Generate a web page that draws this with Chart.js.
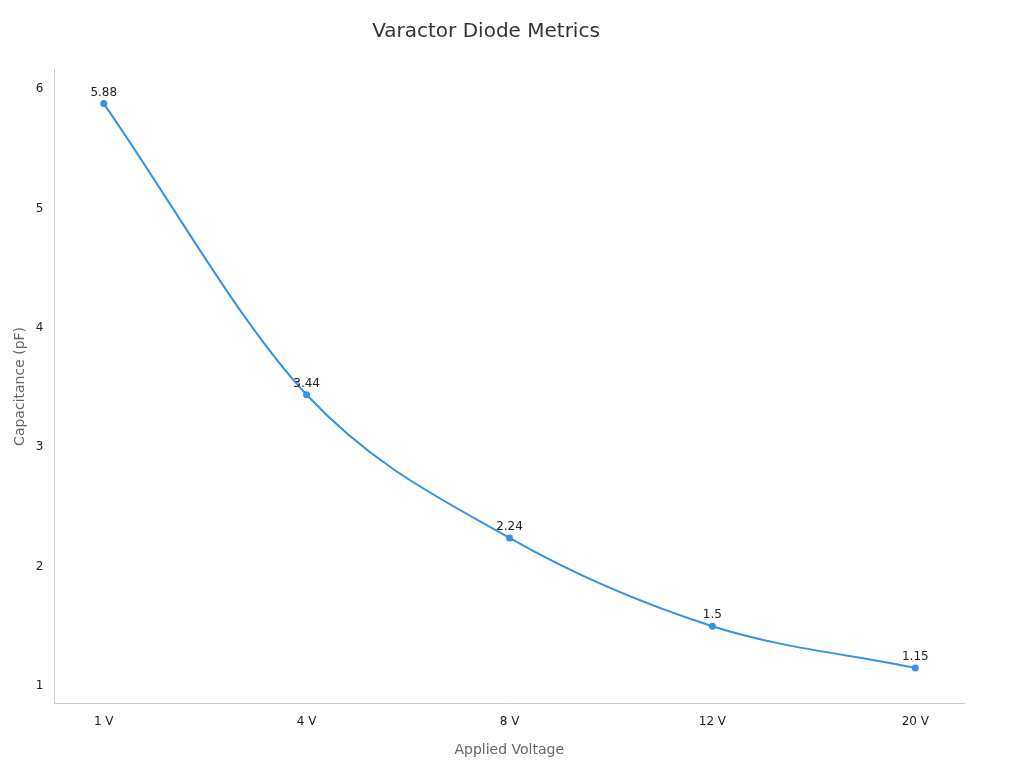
<!DOCTYPE html>
<html><head><meta charset="utf-8">
<script src="https://cdn.jsdelivr.net/npm/chart.js@4/dist/chart.umd.min.js"></script>
<style>html,body{margin:0;padding:0;background:#fff}#w{width:1024px;height:768px}</style>
</head><body><div id="w"><canvas id="c"></canvas></div>
<script>
const categories = ["1 V","4 V","8 V","12 V","20 V"];
const capacitance = [5.88,3.44,2.24,1.5,1.15];
const yTicks = [1,2,3,4,5,6];
Chart.defaults.font.family = "DejaVu Sans";
const labelPlugin = {id:'lbl', afterDatasetsDraw(ch){
  const ctx=ch.ctx, meta=ch.getDatasetMeta(0);
  ctx.save(); ctx.font='12px DejaVu Sans'; ctx.fillStyle='#222'; ctx.textAlign='center'; ctx.textBaseline='bottom';
  meta.data.forEach((p,i)=>ctx.fillText(String(capacitance[i]),p.x,p.y-5));
  ctx.restore();
}};
new Chart(document.getElementById('c'),{
  type:'line',
  data:{datasets:[{data:capacitance.map((v,i)=>({x:i,y:v})),borderColor:'#3592e6',backgroundColor:'#3592e6',borderWidth:2,pointRadius:2.5,tension:0.4,cubicInterpolationMode:'monotone'}]},
  options:{responsive:true,maintainAspectRatio:false,animation:false,
    layout:{padding:{left:8,right:60,top:10,bottom:5}},
    plugins:{legend:{display:false},tooltip:{enabled:false},
      title:{display:true,text:'Varactor Diode Metrics',color:'#333',font:{size:20,weight:'normal'},padding:{top:10,bottom:25}}},
    scales:{
      x:{type:'linear',min:-0.243,max:4.24,grid:{display:false,drawTicks:true},border:{color:'#ccc'},
        afterBuildTicks(a){a.ticks=categories.map((c,i)=>({value:i}));},
        ticks:{color:'#222',font:{size:12},callback:(v)=>categories[v]},
        title:{display:true,text:'Applied Voltage',color:'#666',font:{size:14},padding:{top:10}}},
      y:{min:0.85,max:6.17,grid:{display:false},border:{color:'#ccc'},
        afterBuildTicks(a){a.ticks=yTicks.map(v=>({value:v}));},
        ticks:{color:'#222',font:{size:12}},
        title:{display:true,text:'Capacitance (pF)',color:'#666',font:{size:14}}}
    }},
  plugins:[labelPlugin]
});
</script></body></html>
